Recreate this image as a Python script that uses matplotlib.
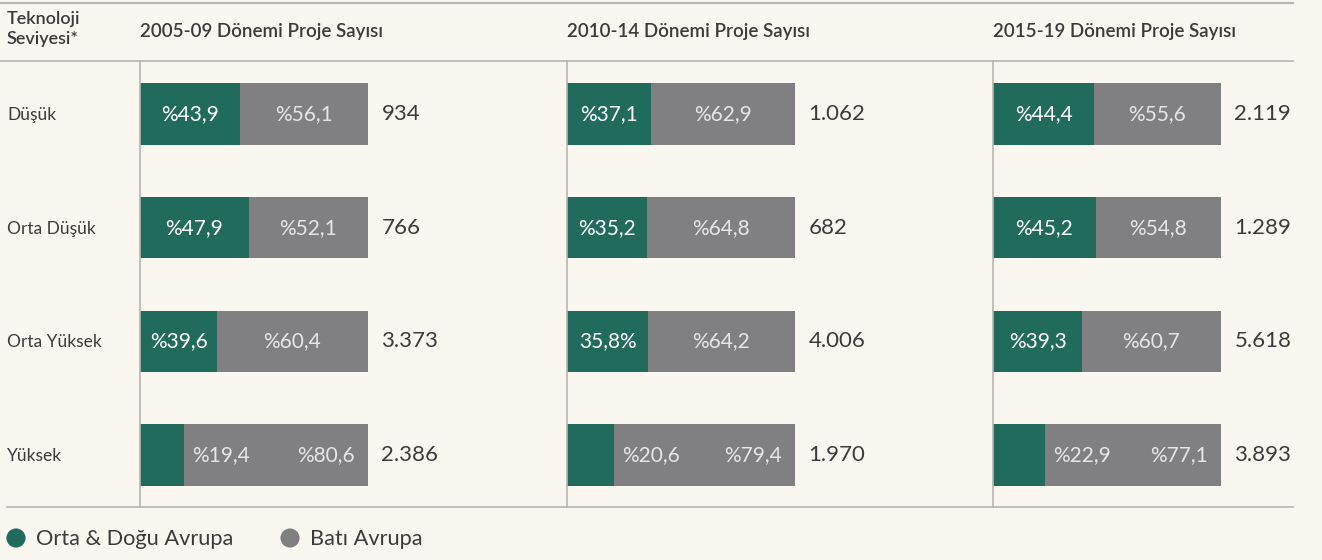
import matplotlib
matplotlib.use("Agg")
import matplotlib.pyplot as plt
from matplotlib.lines import Line2D

plt.rcParams['font.family'] = ['Lato', 'DejaVu Sans']

# ---------------- data ----------------
levels = ["Düşük", "Orta Düşük", "Orta Yüksek", "Yüksek"]
periods = ["2005-09 Dönemi Proje Sayısı", "2010-14 Dönemi Proje Sayısı", "2015-19 Dönemi Proje Sayısı"]
# bar widths as drawn in the picture (share of total, %)
east_2005 = [43.9, 47.9, 33.9, 19.4]
west_2005 = [56.1, 52.1, 66.1, 80.6]
count_2005 = ["934", "766", "3.373", "2.386"]
east_2010 = [37.1, 35.2, 35.8, 20.6]
west_2010 = [62.9, 64.8, 64.2, 79.4]
count_2010 = ["1.062", "682", "4.006", "1.970"]
east_2015 = [44.4, 45.2, 39.3, 22.9]
west_2015 = [55.6, 54.8, 60.7, 77.1]
count_2015 = ["2.119", "1.289", "5.618", "3.893"]
# printed labels
east_labels_2005 = ["%43,9", "%47,9", "%39,6", "%19,4"]
west_labels_2005 = ["%56,1", "%52,1", "%60,4", "%80,6"]
east_labels_2010 = ["%37,1", "%35,2", "35,8%", "%20,6"]
west_labels_2010 = ["%62,9", "%64,8", "%64,2", "%79,4"]
east_labels_2015 = ["%44,4", "%45,2", "%39,3", "%22,9"]
west_labels_2015 = ["%55,6", "%54,8", "%60,7", "%77,1"]
legend_labels = ["Orta & Doğu Avrupa", "Batı Avrupa"]

panels = [
    (east_2005, west_2005, count_2005, east_labels_2005, west_labels_2005),
    (east_2010, west_2010, count_2010, east_labels_2010, west_labels_2010),
    (east_2015, west_2015, count_2015, east_labels_2015, west_labels_2015),
]

# ---------------- style ----------------
BG = "#faf6f0"
GREEN = "#206b5c"
GREY = "#808083"
TEXT = "#3b3b3b"
LINE = "#b8b6b2"

W, H = 1322, 560
fig = plt.figure(figsize=(W / 100, H / 100), dpi=100, facecolor=BG)

# overlay axes in pixel coordinates for rules and header text
ov = fig.add_axes([0, 0, 1, 1], zorder=0)
ov.set_xlim(0, W)
ov.set_ylim(H, 0)
ov.axis("off")
ov.patch.set_alpha(0)

ov.add_line(Line2D([0, 1293], [3, 3], color=LINE, lw=1.6))
ov.add_line(Line2D([0, 1293], [61, 61], color=LINE, lw=1.2))
ov.add_line(Line2D([7, 1293], [507, 507], color=LINE, lw=1.2))

ov.text(7, 19, "Teknoloji", fontsize=13, color=TEXT, weight="semibold", va="center", ha="left")
ov.text(7, 39, "Seviyesi*", fontsize=13, color=TEXT, weight="semibold", va="center", ha="left")

row_y = [115, 229, 342, 456]
for lab, y in zip(levels, row_y):
    ov.text(7, y, lab, fontsize=12.5, color=TEXT, va="center", ha="left")

panel_x = [140, 567, 993]
bar_w_px = 227.5
top_px, bot_px = 61, 507
pitch = 113.7

for px, title in zip(panel_x, periods):
    ov.text(px, 32, title, fontsize=13.5, color=TEXT, weight="semibold", va="center", ha="left")

# legend
ov.scatter([16], [538], s=190, color=GREEN, edgecolors="none")
ov.text(36, 539, legend_labels[0], fontsize=15.7, color=TEXT, va="center", ha="left")
ov.scatter([290], [538], s=190, color=GREY, edgecolors="none")
ov.text(310, 539, legend_labels[1], fontsize=15.7, color=TEXT, va="center", ha="left")

# panels
y0 = -(114 - top_px) / pitch
y1 = 3 + (bot_px - 455) / pitch
ypos = list(range(len(levels)))
for px, (east, west, counts, elabs, wlabs) in zip(panel_x, panels):
    ax = fig.add_axes([px / W, 1 - bot_px / H, bar_w_px / W, (bot_px - top_px) / H], zorder=2)
    ax.patch.set_alpha(0)
    ax.set_xlim(0, 100)
    ax.set_ylim(y1, y0)
    for s in ["top", "right", "bottom"]:
        ax.spines[s].set_visible(False)
    ax.spines["left"].set_color(LINE)
    ax.spines["left"].set_linewidth(1.2)
    ax.set_xticks([])
    ax.set_yticks([])
    ax.barh(ypos, east, height=0.537, color=GREEN, lw=0)
    ax.barh(ypos, west, left=east, height=0.537, color=GREY, lw=0)
    for i in ypos:
        if east[i] < 25:
            ax.text(east[i] + 3.5, i, elabs[i], color="#e6e6e6", fontsize=15, va="center", ha="left")
            ax.text(94.3, i, wlabs[i], color="#e6e6e6", fontsize=15, va="center", ha="right")
        else:
            ax.text(east[i] / 2, i, elabs[i], color="white", fontsize=15, va="center", ha="center")
            ax.text(east[i] + west[i] / 2, i, wlabs[i], color="#e6e6e6", fontsize=15, va="center", ha="center")
        ax.annotate(counts[i], (100, i), xytext=(10, 0), textcoords="offset points",
                    color=TEXT, fontsize=16, va="center", ha="left", annotation_clip=False)

fig.savefig("out.png", dpi=100, facecolor=BG)
